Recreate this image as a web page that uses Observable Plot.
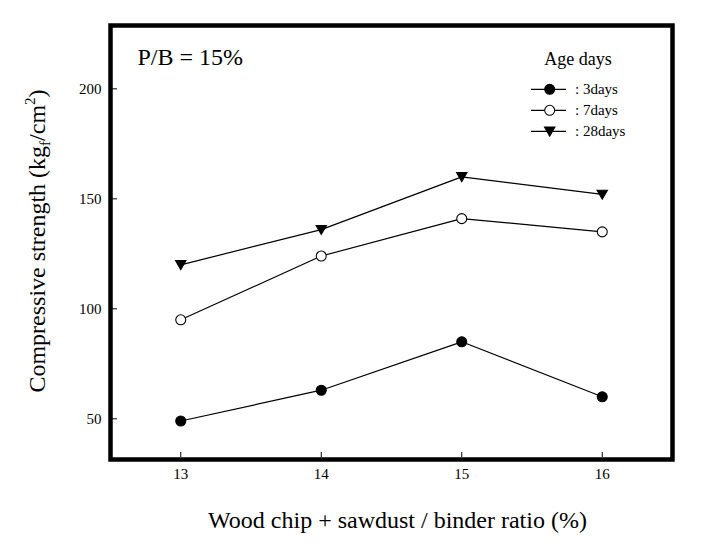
<!DOCTYPE html>
<html>
<head>
<meta charset="utf-8">
<script src="https://cdn.jsdelivr.net/npm/d3@7"></script>
<script src="https://cdn.jsdelivr.net/npm/@observablehq/plot@0.6"></script>
<style>
  html, body { margin: 0; padding: 0; background: #fff; }
  #chart { width: 714px; height: 542px; }
  svg { display: block; }
</style>
</head>
<body>
<div id="chart"></div>
<script>
const ratios = [13, 14, 15, 16];
const days3 = [49, 63, 85, 60];
const days7 = [95, 124, 141, 135];
const days28 = [120, 136, 160, 152];
const seriesNames = ["3days", "7days", "28days"];
const yTicks = [50, 100, 150, 200];
const xTicks = [13, 14, 15, 16];
const annotation = "P/B = 15%";
const legendTitle = "Age days";
const xTitle = "Wood chip + sawdust / binder ratio (%)";

const seriesValues = [days3, days7, days28];
const data = [];
seriesNames.forEach((s, i) => ratios.forEach((r, j) => data.push({series: s, ratio: r, value: seriesValues[i][j]})));

const triangleDown = {
  draw(ctx, size) {
    ctx.moveTo(-5.2, -4.2);
    ctx.lineTo(5.2, -4.2);
    ctx.lineTo(0, 4.8);
    ctx.closePath();
  }
};
const symbolFor = {"3days": "circle", "7days": "circle", "28days": triangleDown};
const fillFor = {"3days": "black", "7days": "white", "28days": "black"};

const font = "'Liberation Serif', 'Times New Roman', serif";

const plot = Plot.plot({
  width: 714,
  height: 542,
  marginLeft: 110,
  marginRight: 42,
  marginTop: 25,
  marginBottom: 83,
  style: {fontFamily: font, fontSize: "15px", background: "white", color: "black"},
  x: {domain: [12.5, 16.5], label: null},
  y: {domain: [31.5, 228.8], label: null},
  marks: [
    Plot.axisX(xTicks, {tickSize: -5, insetBottom: 2, text: null, label: null, strokeWidth: 1}),
    Plot.axisX(xTicks, {tickSize: 0, tickPadding: 9, label: null, fontSize: 15, tickFormat: d3.format("d")}),
    Plot.axisY(yTicks, {tickSize: -5, insetLeft: 2, text: null, label: null, strokeWidth: 1}),
    Plot.axisY(yTicks, {tickSize: 0, tickPadding: 9, label: null, fontSize: 15, tickFormat: d3.format("d")}),
    Plot.line(data, {x: "ratio", y: "value", z: "series", stroke: "black", strokeWidth: 1.2}),
    ...seriesNames.map(s => Plot.dot(data.filter(d => d.series === s), {
      x: "ratio", y: "value", r: 5, symbol: () => symbolFor[s],
      fill: fillFor[s], stroke: "black", strokeWidth: 1.1
    })),
    Plot.frame({stroke: "black", strokeWidth: 4.5}),
    Plot.text([annotation], {frameAnchor: "top-left", dx: 27, dy: 39, lineAnchor: "bottom", textAnchor: "start", fontSize: 24, fill: "black"}),
    Plot.text([xTitle], {frameAnchor: "bottom", dx: 6, dy: 68, lineAnchor: "bottom", fontSize: 24, fill: "black"})
  ]
});

document.getElementById("chart").appendChild(plot);

const svg = d3.select(plot);
// Y title with subscript and superscript
const yt = svg.append("text")
  .attr("transform", "translate(45,241) rotate(-90)")
  .attr("text-anchor", "middle")
  .attr("font-family", font)
  .attr("font-size", 24)
  .attr("fill", "black");
yt.append("tspan").text("Compressive strength (kg");
yt.append("tspan").attr("font-size", 15).attr("dy", 5).text("f");
yt.append("tspan").attr("dy", -5).text("/cm");
yt.append("tspan").attr("font-size", 15).attr("dy", -10).text("2");
yt.append("tspan").attr("dy", 10).text(")");

// Legend
const lg = svg.append("g").attr("font-family", font).attr("fill", "black");
lg.append("text").attr("x", 578).attr("y", 65).attr("text-anchor", "middle").attr("font-size", 18).text(legendTitle);
seriesNames.forEach((s, i) => {
  const cy = 89.3 + i * 21;
  lg.append("line").attr("x1", 531).attr("x2", 566).attr("y1", cy).attr("y2", cy).attr("stroke", "black").attr("stroke-width", 1.2);
  const p = d3.path();
  if (symbolFor[s] === "circle") { p.arc(0, 0, 5, 0, 2 * Math.PI); } else { triangleDown.draw(p, 0); }
  lg.append("path").attr("d", p.toString()).attr("transform", `translate(549.7,${cy})`)
    .attr("fill", fillFor[s]).attr("stroke", "black").attr("stroke-width", 1.1);
  lg.append("text").attr("x", 575).attr("y", cy + 5).attr("text-anchor", "start").attr("font-size", 15).text(": " + s);
});
</script>
</body>
</html>
